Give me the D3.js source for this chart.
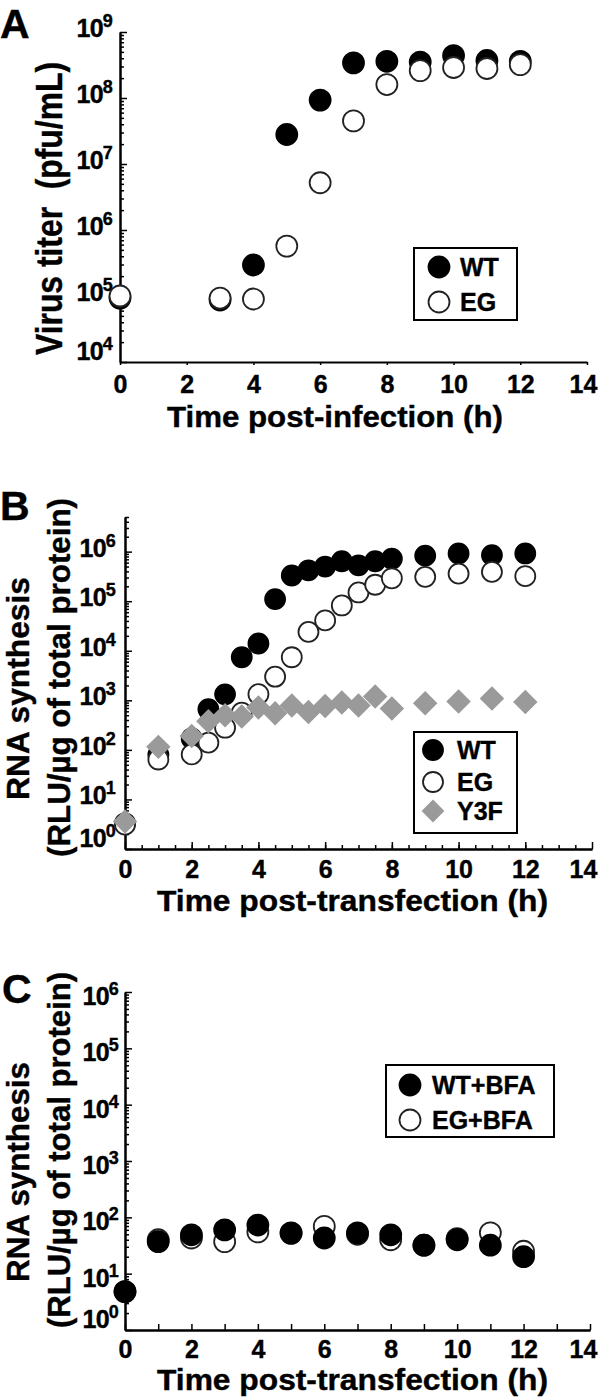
<!DOCTYPE html>
<html>
<head>
<meta charset="utf-8">
<script src="https://cdn.jsdelivr.net/npm/d3@7"></script>
<style>
  body { margin: 0; background: #fff; }
  svg text { font-family: "Liberation Sans", Arial, sans-serif; font-weight: bold; fill: #000; stroke: #000; stroke-width: 0.4; }
</style>
</head>
<body>
<div id="chart"></div>
<script>
// ---------- data ----------
// panel A: virus titer
const hoursA = [0, 3, 4, 5, 6, 7, 8, 9, 10, 11, 12];
const titerWT = [9.3e4, 8.7e4, 2.95e5, 2.8e7, 9.3e7, 3.4e8, 3.6e8, 3.5e8, 4.4e8, 3.7e8, 3.6e8];
const titerEG = [1e5, 9.3e4, 9e4, 5.7e5, 5.2e6, 4.5e7, 1.6e8, 2.6e8, 2.9e8, 2.8e8, 3.2e8];

// panel B: RNA synthesis
const hoursB = [0, 1, 2, 2.5, 3, 3.5, 4, 4.5, 5, 5.5, 6, 6.5, 7, 7.5, 8, 9, 10, 11, 12];
const rnaWT = [3.3, 80, 170, 660, 1320, 7400, 14000, 1.1e5, 3.3e5, 4.2e5, 5e5, 6.4e5, 5.3e5, 6.4e5, 7.2e5, 8.3e5, 9.2e5, 8.5e5, 9.2e5];
const rnaEG = [3.1, 64, 81, 140, 280, 565, 1330, 3000, 7400, 2.4e4, 4.1e4, 8.2e4, 1.5e5, 2.15e5, 2.9e5, 3.1e5, 3.6e5, 3.9e5, 3.2e5];
const rnaY3F = [3.6, 115, 190, 380, 500, 470, 720, 550, 790, 580, 770, 900, 790, 1200, 680, 870, 950, 1090, 930];

// panel C: RNA synthesis with BFA
const hoursC = [0, 1, 2, 3, 4, 5, 6, 7, 8, 9, 10, 11, 12];
const bfaWT = [4.8, 37, 49, 60, 73, 53, 43, 53, 49, 32, 40, 32, 20];
const bfaEG = [4.8, 40, 43, 37, 55, 52, 69, 50, 40, 32, 42, 53, 25];

const xTicks = [0, 2, 4, 6, 8, 10, 12, 14];

const svg = d3.select('#chart').append('svg')
  .attr('width', 600)
  .attr('height', 1399);

// ---------- helpers ----------
function zip(xs, ys) { return xs.map((d, i) => ({ x: d, y: ys[i] })); }

function minorTicks(lo, hi) {
  const out = [];
  for (let e = lo; e < hi; e++) {
    for (let m = 2; m <= 9; m++) out.push(m * Math.pow(10, e));
  }
  return out;
}

function drawPanel(p) {
  const g = svg.append('g');
  const x = d3.scaleLinear().domain([0, 14]).range([p.left, p.right]);
  const y = d3.scaleLog().domain(p.yDomain).range([p.bottom, p.top]);

  // y axis: minor + major ticks pointing inward
  const minors = minorTicks(p.decLo, p.decTop).filter(v => v <= p.yDomain[1]);
  g.append('g')
    .attr('transform', 'translate(' + p.left + ',0)')
    .call(d3.axisRight(y).tickValues(minors).tickSize(4).tickSizeOuter(0).tickFormat(''));
  const majors = d3.range(p.decLo, p.decHi + 1).map(e => Math.pow(10, e));
  g.append('g')
    .attr('transform', 'translate(' + p.left + ',0)')
    .call(d3.axisRight(y).tickValues(majors).tickSize(7).tickSizeOuter(0).tickFormat(''));

  // y tick labels: 10 with superscript
  d3.range(p.decLo, p.decHi + 1).forEach(e => {
    const ty = Math.min(y(Math.pow(10, e)) + p.labelOff, p.bottom - 2);
    const t = g.append('text')
      .attr('x', p.left - p.labelGap)
      .attr('y', ty)
      .attr('text-anchor', 'end')
      .attr('font-size', 25)
      .attr('letter-spacing', -0.8);
    t.append('tspan').text('10');
    t.append('tspan').attr('font-size', 18).attr('dy', -10).text(e);
  });

  // x axis
  if (p.xMinor) {
    g.append('g')
      .attr('transform', 'translate(0,' + p.bottom + ')')
      .call(d3.axisBottom(x).tickValues(p.xMinor).tickSize(p.xMinorSize).tickSizeOuter(0).tickFormat(''));
  }
  g.append('g')
    .attr('class', 'x-axis')
    .attr('transform', 'translate(0,' + p.bottom + ')')
    .call(d3.axisBottom(x).tickValues(xTicks).tickSize(p.xTickSize).tickSizeOuter(0).tickPadding(p.xPad))
    .selectAll('text')
      .attr('font-size', 25)
      .attr('font-family', '"Liberation Sans", Arial, sans-serif')
      .attr('font-weight', 'bold')
      .attr('fill', '#000')
      // keep the last label inside the page
      .attr('dx', d => d === 14 ? -(x(14) - 583) : 0);

  svg.selectAll('.domain').attr('stroke', '#000').attr('stroke-width', 2);
  svg.selectAll('.tick line').attr('stroke', '#000').attr('stroke-width', 1.5);

  // axis titles
  g.append('text')
    .attr('x', p.xTitle[0]).attr('y', p.xTitle[2])
    .attr('font-size', 29)
    .attr('textLength', p.xTitle[1] - p.xTitle[0])
    .attr('lengthAdjust', 'spacingAndGlyphs')
    .text(p.xLabel);

  p.yTitles.forEach(t => {
    g.append('text')
      .attr('transform', 'translate(' + t.x + ',' + t.y0 + ') rotate(-90)')
      .attr('font-size', t.size)
      .attr('textLength', t.y0 - t.y1)
      .attr('lengthAdjust', 'spacingAndGlyphs')
      .attr('xml:space', 'preserve')
      .text(t.label);
  });

  // panel letter
  g.append('text')
    .attr('x', p.letterPos[0]).attr('y', p.letterPos[1])
    .attr('font-size', 41)
    .text(p.letter);

  // series
  p.series.forEach(s => {
    const pts = zip(s.x, s.y);
    if (s.shape === 'diamond') {
      g.selectAll(null).data(pts).enter().append('path')
        .attr('d', d3.symbol(d3.symbolSquare, 300))
        .attr('transform', d => 'translate(' + x(d.x) + ',' + y(d.y) + ') rotate(45)')
        .attr('fill', '#9a9a9a');
    } else {
      g.selectAll(null).data(pts).enter().append('circle')
        .attr('cx', d => x(d.x))
        .attr('cy', d => y(d.y))
        .attr('r', p.r)
        .attr('fill', s.shape === 'open' ? '#fff' : '#000')
        .attr('stroke', s.shape === 'open' ? '#222' : '#000')
        .attr('stroke-width', 1.8);
    }
  });

  // legend
  const L = p.legend;
  g.append('rect')
    .attr('x', L.x).attr('y', L.y).attr('width', L.w).attr('height', L.h)
    .attr('fill', '#fff').attr('stroke', '#000').attr('stroke-width', 2);
  L.items.forEach((it, i) => {
    const cy = L.rows[i];
    if (it.shape === 'diamond') {
      g.append('path')
        .attr('d', d3.symbol(d3.symbolSquare, 260))
        .attr('transform', 'translate(' + L.mx + ',' + cy + ') rotate(45)')
        .attr('fill', '#9a9a9a');
    } else {
      g.append('circle')
        .attr('cx', L.mx).attr('cy', cy).attr('r', p.r)
        .attr('fill', it.shape === 'open' ? '#fff' : '#000')
        .attr('stroke', it.shape === 'open' ? '#222' : '#000')
        .attr('stroke-width', 1.8);
    }
    g.append('text')
      .attr('x', L.tx).attr('y', cy + 9)
      .attr('font-size', 25)
      .text(it.label);
  });
}

// ---------- panel A ----------
drawPanel({
  letter: 'A', letterPos: [0, 38],
  left: 120, right: 587, top: 32, bottom: 362,
  yDomain: [1e4, 1e9], decLo: 4, decHi: 9, decTop: 9,
  labelGap: 8, labelOff: 4.5,
  xTickSize: 3, xPad: 10,
  xLabel: 'Time post-infection (h)', xTitle: [167, 503, 427],
  yTitles: [{ label: 'Virus titer  (pfu/mL)', x: 62, y0: 355, y1: 62, size: 37 }],
  r: 10.5,
  series: [
    { shape: 'filled', x: hoursA, y: titerWT },
    { shape: 'open', x: hoursA, y: titerEG }
  ],
  legend: {
    x: 414, y: 248, w: 103, h: 72, mx: 439, tx: 460,
    rows: [267, 302],
    items: [{ shape: 'filled', label: 'WT' }, { shape: 'open', label: 'EG' }]
  }
});

// ---------- panel B ----------
drawPanel({
  letter: 'B', letterPos: [0, 520],
  left: 125, right: 592, top: 517, bottom: 849,
  yDomain: [1, 5e6], decLo: 0, decHi: 6, decTop: 7,
  labelGap: 10, labelOff: 5,
  xMinor: d3.range(0.5, 14, 0.5), xMinorSize: -4,
  xTickSize: -7, xPad: 11,
  xLabel: 'Time post-transfection (h)', xTitle: [157, 548, 911],
  yTitles: [
    { label: 'RNA synthesis', x: 29, y0: 800, y1: 577, size: 32 },
    { label: '(RLU/\u00b5g of total protein)', x: 70, y0: 857, y1: 498, size: 32 }
  ],
  r: 10,
  series: [
    { shape: 'filled', x: hoursB, y: rnaWT },
    { shape: 'open', x: hoursB, y: rnaEG },
    { shape: 'diamond', x: hoursB, y: rnaY3F }
  ],
  legend: {
    x: 414, y: 732, w: 103, h: 101, mx: 433, tx: 457,
    rows: [750, 782, 811],
    items: [{ shape: 'filled', label: 'WT' }, { shape: 'open', label: 'EG' }, { shape: 'diamond', label: 'Y3F' }]
  }
});

// ---------- panel C ----------
drawPanel({
  letter: 'C', letterPos: [2, 1003],
  left: 125, right: 590, top: 992, bottom: 1330,
  yDomain: [1, 1e6], decLo: 0, decHi: 6, decTop: 6,
  labelGap: 7, labelOff: 13,
  xMinor: d3.range(1, 14, 2), xMinorSize: -6,
  xTickSize: -6, xPad: 10,
  xLabel: 'Time post-transfection (h)', xTitle: [157, 548, 1390],
  yTitles: [
    { label: 'RNA synthesis', x: 29, y0: 1282, y1: 1062, size: 32 },
    { label: '(RLU/\u00b5g of total protein)', x: 70, y0: 1328, y1: 972, size: 32 }
  ],
  r: 10.5,
  series: [
    { shape: 'open', x: hoursC, y: bfaEG },
    { shape: 'filled', x: hoursC, y: bfaWT }
  ],
  legend: {
    x: 386, y: 1065, w: 168, h: 72, mx: 410, tx: 432,
    rows: [1085, 1120],
    items: [{ shape: 'filled', label: 'WT+BFA' }, { shape: 'open', label: 'EG+BFA' }]
  }
});
</script>
</body>
</html>
